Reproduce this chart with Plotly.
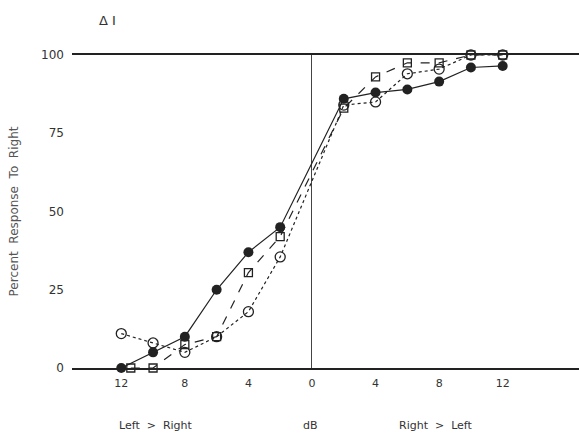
import plotly.graph_objects as go

# dB difference: negative = Left > Right, positive = Right > Left
x_filled = [-12, -10, -8, -6, -4, -2, 2, 4, 6, 8, 10, 12]
y_filled = [0, 5, 10, 25, 37, 45, 86, 88, 89, 91.5, 96, 96.5]

x_square = [-11.4, -10, -8, -6, -4, -2, 2, 4, 6, 8, 10, 12]
y_square = [0, 0, 7.5, 10, 30.5, 42, 83, 93, 97.5, 97.5, 100, 100]

x_open = [-12, -10, -8, -6, -4, -2, 2, 4, 6, 8, 10, 12]
y_open = [11, 8, 5, 10, 18, 35.5, 84, 85, 94, 95.5, 100, 100]

x_tickvals = [-12, -8, -4, 0, 4, 8, 12]
x_ticktext = ["12", "8", "4", "0", "4", "8", "12"]
y_tickvals = [0, 25, 50, 75, 100]

ink = "#222222"
font = dict(family="DejaVu Sans", size=12, color="#333333")

L, T, B = 72, 55, 66
PW, PH = 579 - L, 434 - T - B

fig = go.Figure()
fig.add_trace(go.Scatter(
    x=x_open, y=y_open, mode="lines+markers", cliponaxis=False,
    line=dict(color=ink, width=1.2, dash="dot"),
    marker=dict(symbol="circle-open", size=10, color=ink, line=dict(width=1.3)),
    showlegend=False))
fig.add_trace(go.Scatter(
    x=x_square, y=y_square, mode="lines+markers", cliponaxis=False,
    line=dict(color=ink, width=1.2, dash="dash"),
    marker=dict(symbol="square-open", size=8, color=ink, line=dict(width=1.3)),
    showlegend=False))
fig.add_trace(go.Scatter(
    x=x_filled, y=y_filled, mode="lines+markers", cliponaxis=False,
    line=dict(color=ink, width=1.2),
    marker=dict(symbol="circle", size=10, color=ink),
    showlegend=False))

fig.update_layout(
    width=579, height=434,
    margin=dict(l=L, r=0, t=T, b=B, autoexpand=False),
    paper_bgcolor="white", plot_bgcolor="white",
    font=font,
    xaxis=dict(range=[-15.1, 16.8], tickvals=x_tickvals, ticktext=x_ticktext,
               showgrid=False, zeroline=True, zerolinecolor="#444444", zerolinewidth=1,
               showline=True, linecolor=ink, linewidth=1.6, mirror=True,
               ticks="", ticklabelstandoff=4, tickfont=dict(size=11)),
    yaxis=dict(range=[0, 100], tickvals=y_tickvals, showgrid=False, zeroline=False,
               showline=False, ticks="", ticklabelstandoff=7,
               title=dict(text="Percent  Response  To  Right", standoff=19,
                          font=dict(family="DejaVu Sans", size=12, color="#555555"))),
    annotations=[
        dict(text="Δ I", x=(107 - L) / PW, y=1 + (T - 20) / PH, xref="paper", yref="paper",
             showarrow=False, xanchor="center", yanchor="middle", font=dict(size=13)),
        dict(text="Left  >  Right", x=-9.8, xref="x", y=(368 - 425) / PH, yref="paper",
             showarrow=False, yanchor="middle", font=dict(size=11)),
        dict(text="dB", x=-0.1, xref="x", y=(368 - 425) / PH, yref="paper",
             showarrow=False, yanchor="middle", font=dict(size=11)),
        dict(text="Right  >  Left", x=7.8, xref="x", y=(368 - 425) / PH, yref="paper",
             showarrow=False, yanchor="middle", font=dict(size=11)),
    ],
)

fig.write_html("out.html", config={"displayModeBar": False},
               post_script="document.body.style.margin='0';")
